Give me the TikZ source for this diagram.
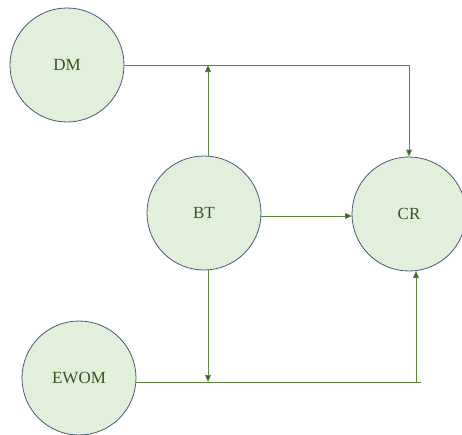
\documentclass[tikz,border=0pt]{standalone}
\usepackage{fontspec}
\setmainfont{Liberation Serif}
\usetikzlibrary{arrows.meta}
\definecolor{cfill}{HTML}{E2EFDA}
\definecolor{cborder}{HTML}{4A5A78}
\definecolor{cline}{HTML}{5A8A3C}
\definecolor{ctext}{HTML}{375623}
\tikzset{
  bubble/.style={circle, draw=cborder, fill=cfill, line width=0.8pt, minimum size=114pt, inner sep=0pt, text=ctext, font=\fontsize{17}{19}\selectfont},
  conn/.style={draw=cline, line width=0.9pt},
  arr/.style={conn, -{Triangle[length=7pt,width=6pt,fill=ctext]}},
}
\begin{document}
\begin{tikzpicture}[x=1pt,y=-1pt]
\useasboundingbox (0,0) rectangle (462,434);
\node[bubble] (DM) at (67,65) {DM};
\node[bubble] (BT) at (204,213) {BT};
\node[bubble] (CR) at (409,214) {CR};
\node[bubble] (EWOM) at (79,378) {EWOM};
\coordinate (top) at (208,65);
\coordinate (bot) at (208,382);
\coordinate (ewe) at (136,382);
\coordinate (end) at (421,382);
\coordinate (up) at (416,382);
\coordinate (upend) at (416,271);
\coordinate (btr) at (261,216);
\coordinate (crl) at (352,216);
% DM to CR
\draw[arr] (DM.east) -| (CR.north);
% BT up and down
\draw[arr] (BT.north -| top) -- (top);
\draw[arr] (BT.south -| bot) -- (bot);
% BT to CR
\draw[arr] (btr) -- (crl);
% EWOM line
\draw[conn] (ewe) -- (end);
\draw[arr] (up) -- (upend);
\end{tikzpicture}
\end{document}
